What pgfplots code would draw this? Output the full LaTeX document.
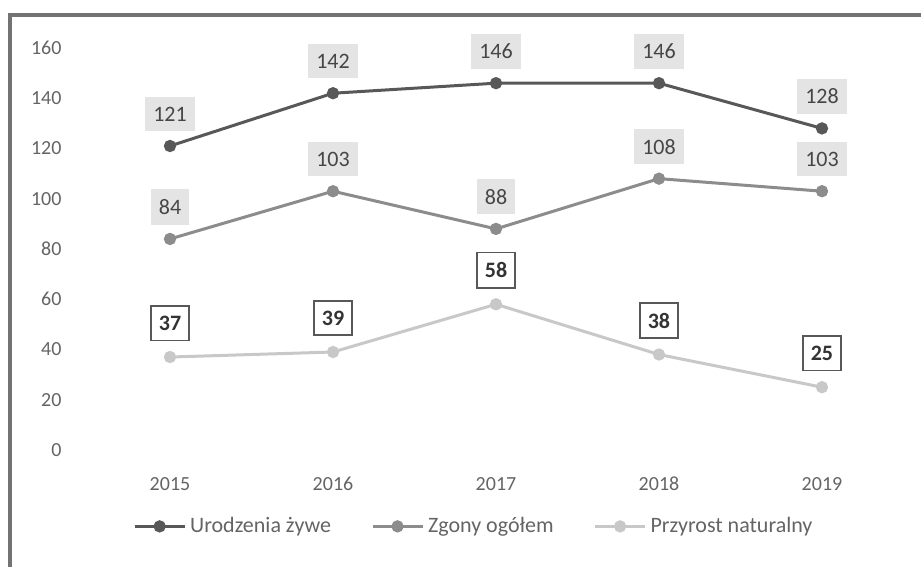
\documentclass[border=0pt]{standalone}
\usepackage{pgfplots}
\pgfplotsset{compat=1.18}
\usepackage{fontspec}
\setmainfont{Carlito}
\definecolor{sA}{RGB}{88,88,88}
\definecolor{sB}{RGB}{140,140,140}
\definecolor{sC}{RGB}{200,200,200}
\definecolor{lblbg}{RGB}{228,228,228}
\definecolor{txt}{RGB}{100,100,100}
\begin{document}
\begin{tikzpicture}
\begin{axis}[
  at={(0,0)}, anchor=south west,
  scale only axis,
  width=407.5pt, height=201pt,
  xmin=-0.5, xmax=4.5, ymin=0, ymax=160,
  xtick={0,1,2,3,4},
  xticklabels={2015,2016,2017,2018,2019},
  ytick={0,20,...,160},
  /pgf/number format/assume math mode=true,
  axis line style={draw=none},
  major tick length=0pt,
  tick style={draw=none},
  ticklabel style={font=\fontsize{10}{12}\selectfont, text=txt},
  xticklabel style={yshift=-10pt},
  yticklabel style={xshift=-10pt},
  clip=false,
  legend columns=3,
  legend style={draw=none, fill=none, at={(0.474,-0.19)}, anchor=center,
    font=\fontsize{11}{13}\selectfont, text=txt,
    /tikz/every even column/.append style={column sep=18pt}},
  legend image code/.code={\draw[mark repeat=2,mark phase=2] plot coordinates {(0pt,0pt) (12.5pt,0pt) (25pt,0pt)};},
  every axis plot/.append style={line width=1.5pt, mark=*, mark size=2.3pt},
  nodes near coords,
  every node near coord/.append style={anchor=center, yshift=16pt, font=\fontsize{11}{13}\selectfont},
]
\addplot[color=sA, mark options={fill=sA, draw=sA},
  every node near coord/.append style={fill=lblbg, text=sA!80!black, inner xsep=4pt, inner ysep=5pt}]
  coordinates {(0,121) (1,142) (2,146) (3,146) (4,128)};
\addlegendentry{Urodzenia żywe}
\addplot[color=sB, mark options={fill=sB, draw=sB},
  every node near coord/.append style={fill=lblbg, text=sA!80!black, inner xsep=4pt, inner ysep=5pt}]
  coordinates {(0,84) (1,103) (2,88) (3,108) (4,103)};
\addlegendentry{Zgony ogółem}
\addplot[color=sC, mark options={fill=sC, draw=sC},
  every node near coord/.append style={fill=white, draw=sA, line width=0.8pt, text=black!80, font=\fontsize{11}{13}\selectfont\bfseries, inner xsep=4pt, inner ysep=5pt, yshift=1pt}]
  coordinates {(0,37) (1,39) (2,58) (3,38) (4,25)};
\addlegendentry{Przyrost naturalny}
\end{axis}
\draw[color=black!55, line width=2pt] (-39.25pt,-80pt) -- (-39.25pt,217.5pt) -- (430pt,217.5pt);
\pgfresetboundingbox
\useasboundingbox (-44.25pt,-58.5pt) rectangle (416.25pt,225pt);
\end{tikzpicture}
\end{document}
